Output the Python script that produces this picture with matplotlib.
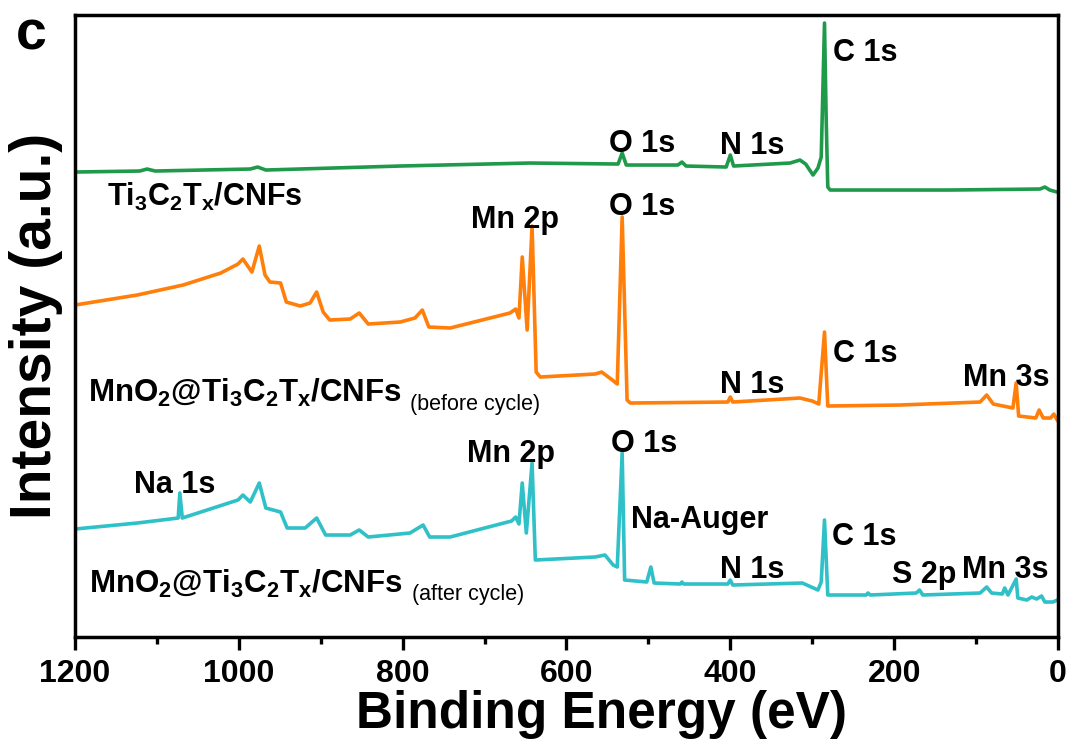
import numpy as np
import matplotlib
matplotlib.use('Agg')
import matplotlib.pyplot as plt
from matplotlib.ticker import MultipleLocator

#==============================================================================
#                         Spectra (binding energy [eV], intensity [a.u.])
#==============================================================================
# Ti3C2Tx/CNFs
e_tc = [1200, 1121, 1112, 1102, 986, 977, 967, 803, 645, 537, 532, 527, 464,
        459, 454, 405, 400, 396, 327, 315, 308, 299, 293, 289, 285, 283,
        281, 278, 132, 22, 16, 10, 1]
i_tc = [465, 466, 468, 466, 468, 470, 467, 471, 474, 473, 484, 472, 472,
        475, 471, 470, 482, 471, 474, 477, 473, 462, 469, 480, 614, 520,
        450, 447, 447, 448, 450, 447, 445]

# MnO2@Ti3C2Tx/CNFs before cycling
e_bef = [1200, 1124, 1068, 1022, 1001, 995, 984, 975, 968, 962, 949, 942,
         925, 913, 905, 897, 889, 864, 853, 842, 803, 785, 776, 768, 742,
         669, 662, 658, 654, 648, 642, 637, 632, 565, 557, 544, 538, 532,
         526, 522, 403, 400, 397, 315, 300, 292, 285, 281, 193, 95, 87, 79,
         61, 55, 51, 48, 27, 23, 18, 9, 5, 1]
i_bef = [332, 342, 352, 364, 373, 378, 365, 391, 362, 355, 354, 335,
         331, 334, 345, 325, 317, 318, 324, 313, 315, 319, 327, 310, 309,
         324, 328, 319, 380, 307, 411, 265, 260, 263, 265, 257, 253, 420,
         237, 234, 235, 240, 235, 239, 236, 233, 305, 231, 232, 235, 242,
         233, 230, 229, 254, 221, 219, 227, 219, 219, 223, 217]

# MnO2@Ti3C2Tx/CNFs after cycling
e_aft = [1200, 1124, 1074, 1072, 1069, 1001, 995, 986, 975, 967, 949, 941,
         919, 905, 894, 864, 853, 842, 791, 775, 767, 742, 667, 662, 658,
         654, 649, 642, 638, 565, 553, 543, 538, 532, 529, 502, 497, 493,
         461, 459, 457, 403, 400, 397, 312, 293, 289, 285, 281, 234, 232,
         229, 173, 169, 165, 95, 87, 81, 68, 65, 61, 51, 49, 38, 32, 26, 20,
         16, 6, 1]
i_aft = [108, 114, 119, 144, 119, 137, 142, 135, 154, 129, 125, 109,
         109, 119, 102, 102, 107, 100, 104, 112, 100, 100, 116, 120, 113,
         154, 104, 174, 77, 80, 82, 72, 70, 184, 57, 55, 70, 54, 53, 55, 53,
         53, 57, 52, 54, 47, 55, 117, 42, 42, 44, 42, 44, 47, 42, 44, 50, 44,
         43, 49, 42, 58, 39, 37, 40, 38, 41, 35, 35, 37]

c_tc, c_bef, c_aft = '#1f9a4a', '#ff7f0a', '#2fc0c8'

# peak labels: (text, energy, intensity)
lab_tc = [('O 1s', 548, 485), ('N 1s', 413, 483), ('C 1s', 275, 576)]
lab_bef = [('Mn 2p', 717, 409), ('O 1s', 548, 422), ('N 1s', 413, 244),
           ('C 1s', 275, 275), ('Mn 3s', 116, 251)]
lab_aft = [('Na 1s', 1128, 144), ('Mn 2p', 721, 175), ('O 1s', 546, 185),
           ('Na-Auger', 521, 109), ('N 1s', 413, 59), ('C 1s', 276, 92),
           ('S 2p', 202, 54), ('Mn 3s', 117, 59)]

#==============================================================================
#                         Plotting
#==============================================================================
plt.rcParams['font.family'] = ['Liberation Sans', 'DejaVu Sans']
plt.rcParams['font.weight'] = 'bold'
plt.rcParams['mathtext.fontset'] = 'custom'
plt.rcParams['mathtext.bf'] = 'Liberation Sans:bold'
plt.rcParams['mathtext.rm'] = 'Liberation Sans:bold'
plt.rcParams['mathtext.default'] = 'bf'

fig = plt.figure(figsize=(10.68, 7.44), dpi=100)
ax = fig.add_axes([0.0702, 0.1438, 0.9204, 0.836])

lw = 2.6
ax.plot(e_tc, i_tc, color=c_tc, lw=lw)
ax.plot(e_bef, i_bef, color=c_bef, lw=lw)
ax.plot(e_aft, i_aft, color=c_aft, lw=lw)

fs = 22
for lab in (lab_tc, lab_bef, lab_aft):
    for txt, e, y in lab:
        ax.text(e, y, txt, fontsize=fs, fontweight='bold', ha='left',
                va='baseline')

ax.text(1161, 431, r'Ti$_3$C$_2$T$_x$/CNFs', fontsize=fs, fontweight='bold',
        va='baseline')
ax.text(1184, 235, r'MnO$_2$@Ti$_3$C$_2$T$_x$/CNFs', fontsize=22.5,
        fontweight='bold', va='baseline')
ax.text(791, 227, '(before cycle)', fontsize=15.5, fontweight='normal',
        va='baseline')
ax.text(1183, 44, r'MnO$_2$@Ti$_3$C$_2$T$_x$/CNFs', fontsize=22.5,
        fontweight='bold', va='baseline')
ax.text(789, 37, '(after cycle)', fontsize=15.5, fontweight='normal',
        va='baseline')

ax.set_xlim(1200, 0)
ax.set_ylim(0, 622)
ax.xaxis.set_major_locator(MultipleLocator(200))
ax.xaxis.set_minor_locator(MultipleLocator(100))
ax.set_yticks([])
ax.tick_params(axis='x', which='major', direction='out', length=9, width=2.4,
               labelsize=23, pad=7, top=False)
ax.tick_params(axis='x', which='minor', direction='out', length=5, width=2.4,
               top=False)
for s in ax.spines.values():
    s.set_linewidth(2.5)

ax.set_xlabel('Binding Energy (eV)', fontsize=37, fontweight='bold')
ax.xaxis.set_label_coords(0.536, -0.085)
ax.set_ylabel('Intensity (a.u.)', fontsize=41, fontweight='bold')
ax.yaxis.set_label_coords(-0.012, 0.5)

fig.text(0.015, 0.934, 'c', fontsize=40, fontweight='bold')

plt.savefig('out.png', dpi=100)
